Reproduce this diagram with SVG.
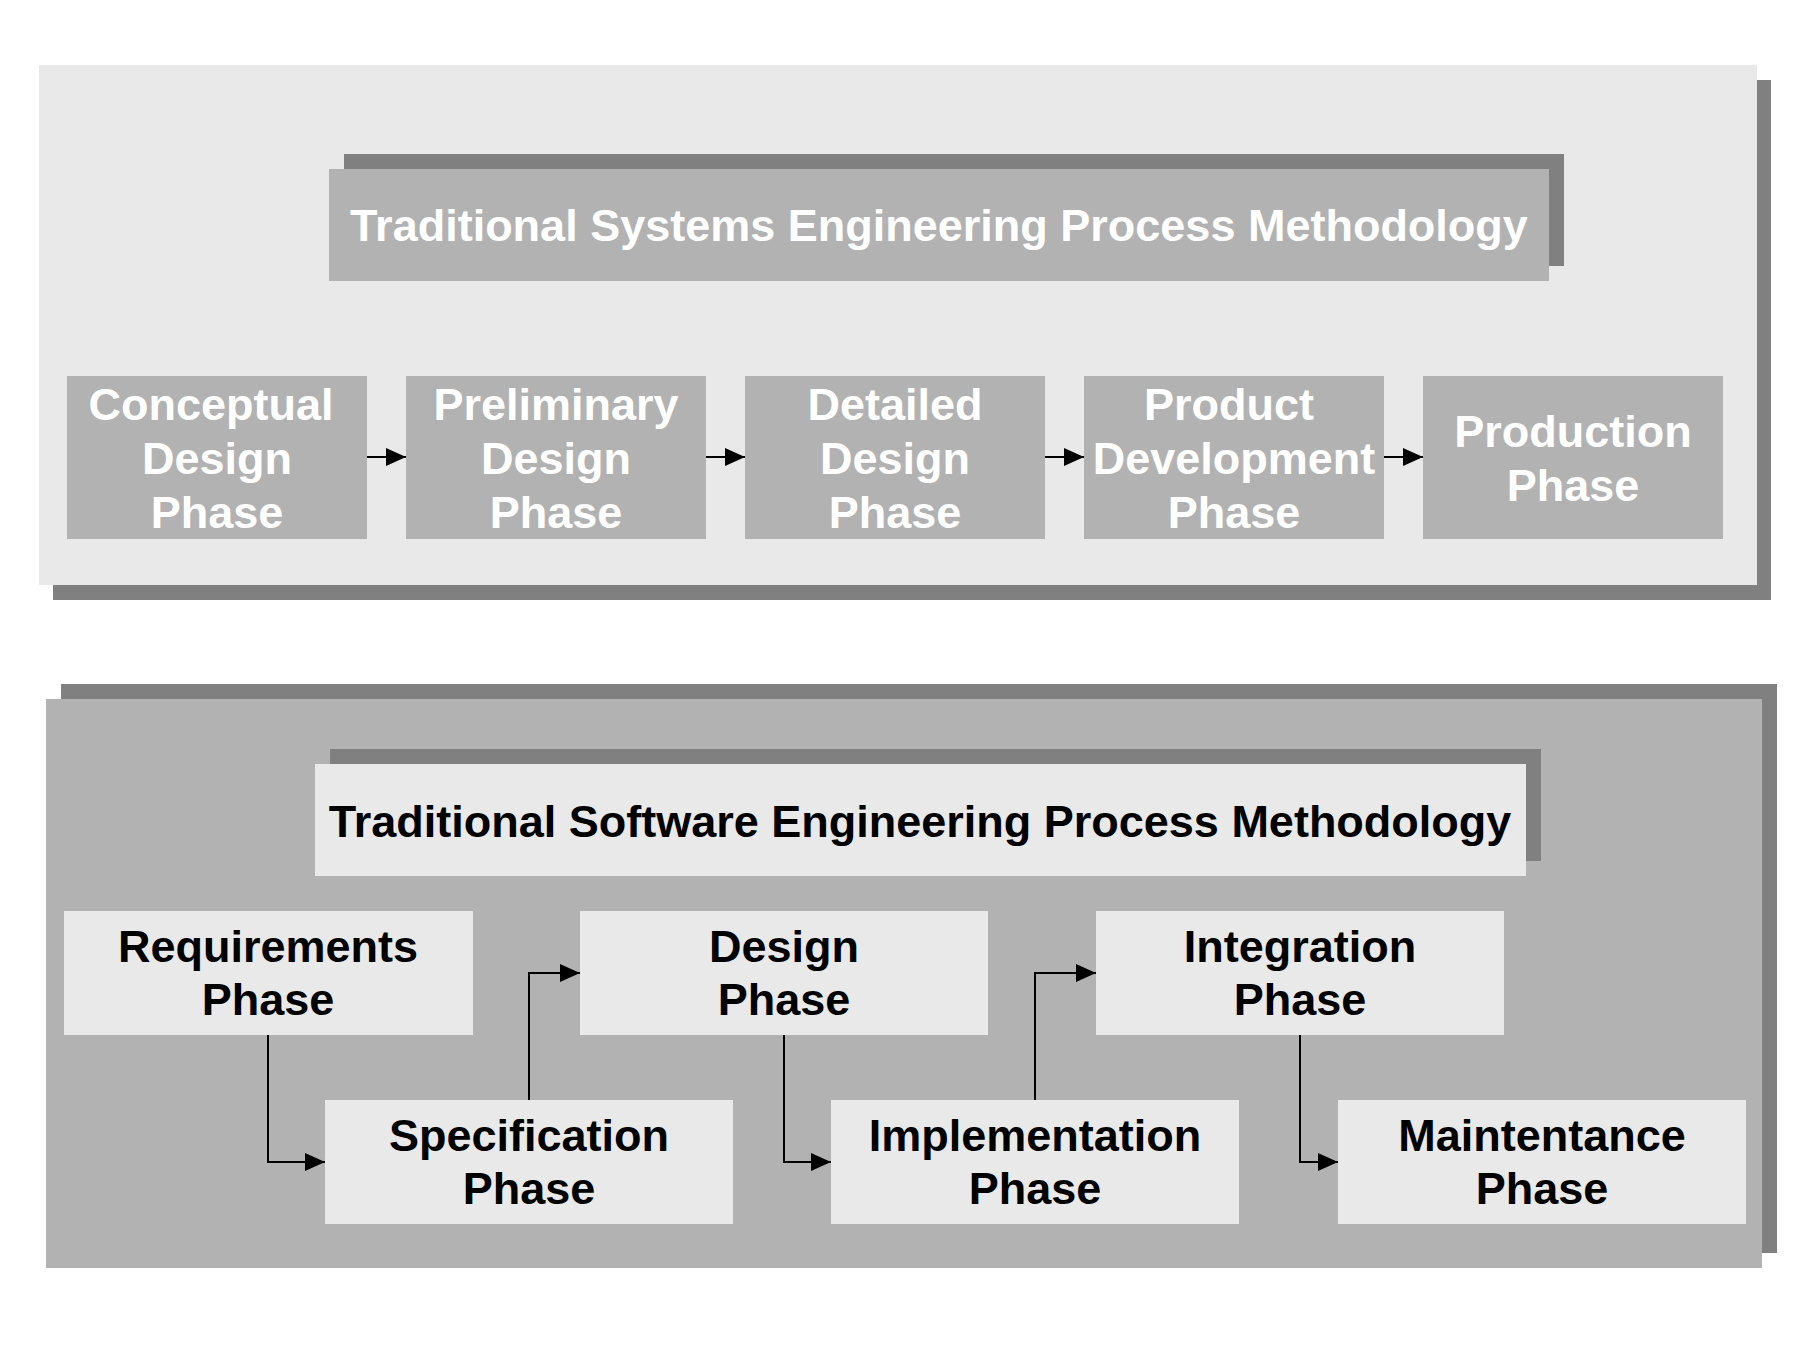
<svg xmlns="http://www.w3.org/2000/svg" width="1800" height="1350" viewBox="0 0 1800 1350">
<defs>
<style>
.shadow{fill:#808080}
.light{fill:#e9e9e9}
.mid{fill:#b2b2b2}
.tw{font-family:"Liberation Sans",Arial,sans-serif;font-weight:bold;font-size:45px;fill:#ffffff;text-anchor:middle}
.tb{font-family:"Liberation Sans",Arial,sans-serif;font-weight:bold;font-size:45px;fill:#000000;text-anchor:middle}
.conn{fill:none;stroke:#000;stroke-width:2}
</style>
<marker id="arr" markerUnits="userSpaceOnUse" markerWidth="20" markerHeight="18" refX="20" refY="9" orient="auto">
<path d="M0,0 L20,9 L0,18 z" fill="#000"/>
</marker>
</defs>
<rect width="1800" height="1350" fill="#ffffff"/>

<g id="panel-systems">
<rect class="shadow" x="53" y="80" width="1718" height="520"/>
<rect class="light" x="39" y="65" width="1718" height="520"/>
</g>
<g id="title-systems">
<rect class="shadow" x="344" y="154" width="1220" height="112"/>
<rect class="mid" x="329" y="169" width="1220" height="112"/>
<text class="tw" x="939" y="241">Traditional Systems Engineering Process Methodology</text>
</g>
<g id="conceptual">
<rect class="mid" x="67" y="376" width="300" height="163"/>
<text class="tw" x="211" y="420">Conceptual</text>
<text class="tw" x="217" y="474">Design</text>
<text class="tw" x="217" y="528">Phase</text>
</g>
<g id="preliminary">
<rect class="mid" x="406" y="376" width="300" height="163"/>
<text class="tw" x="556" y="420">Preliminary</text>
<text class="tw" x="556" y="474">Design</text>
<text class="tw" x="556" y="528">Phase</text>
</g>
<g id="detailed">
<rect class="mid" x="745" y="376" width="300" height="163"/>
<text class="tw" x="895" y="420">Detailed</text>
<text class="tw" x="895" y="474">Design</text>
<text class="tw" x="895" y="528">Phase</text>
</g>
<g id="product">
<rect class="mid" x="1084" y="376" width="300" height="163"/>
<text class="tw" x="1229" y="420">Product</text>
<text class="tw" x="1234" y="474">Development</text>
<text class="tw" x="1234" y="528">Phase</text>
</g>
<g id="production">
<rect class="mid" x="1423" y="376" width="300" height="163"/>
<text class="tw" x="1573" y="447">Production</text>
<text class="tw" x="1573" y="501">Phase</text>
</g>

<g id="panel-software">
<rect class="shadow" x="61" y="684" width="1716" height="569"/>
<rect class="mid" x="46" y="699" width="1716" height="569"/>
</g>
<g id="title-software">
<rect class="shadow" x="330" y="749" width="1211" height="112"/>
<rect class="light" x="315" y="764" width="1211" height="112"/>
<text class="tb" x="920" y="837">Traditional Software Engineering Process Methodology</text>
</g>
<g id="requirements">
<rect class="light" x="64" y="911" width="409" height="124"/>
<text class="tb" x="268" y="962">Requirements</text>
<text class="tb" x="268" y="1015">Phase</text>
</g>
<g id="design">
<rect class="light" x="580" y="911" width="408" height="124"/>
<text class="tb" x="784" y="962">Design</text>
<text class="tb" x="784" y="1015">Phase</text>
</g>
<g id="integration">
<rect class="light" x="1096" y="911" width="408" height="124"/>
<text class="tb" x="1300" y="962">Integration</text>
<text class="tb" x="1300" y="1015">Phase</text>
</g>
<g id="specification">
<rect class="light" x="325" y="1100" width="408" height="124"/>
<text class="tb" x="529" y="1151">Specification</text>
<text class="tb" x="529" y="1204">Phase</text>
</g>
<g id="implementation">
<rect class="light" x="831" y="1100" width="408" height="124"/>
<text class="tb" x="1035" y="1151">Implementation</text>
<text class="tb" x="1035" y="1204">Phase</text>
</g>
<g id="maintenance">
<rect class="light" x="1338" y="1100" width="408" height="124"/>
<text class="tb" x="1542" y="1151">Maintentance</text>
<text class="tb" x="1542" y="1204">Phase</text>
</g>

<g id="connectors">
<path class="conn" d="M367,457 H406" marker-end="url(#arr)"/>
<path class="conn" d="M706,457 H745" marker-end="url(#arr)"/>
<path class="conn" d="M1045,457 H1084" marker-end="url(#arr)"/>
<path class="conn" d="M1384,457 H1423" marker-end="url(#arr)"/>
<path class="conn" d="M268,1035 V1162 H325" marker-end="url(#arr)"/>
<path class="conn" d="M529,1100 V973 H580" marker-end="url(#arr)"/>
<path class="conn" d="M784,1035 V1162 H831" marker-end="url(#arr)"/>
<path class="conn" d="M1035,1100 V973 H1096" marker-end="url(#arr)"/>
<path class="conn" d="M1300,1035 V1162 H1338" marker-end="url(#arr)"/>
</g>
</svg>
